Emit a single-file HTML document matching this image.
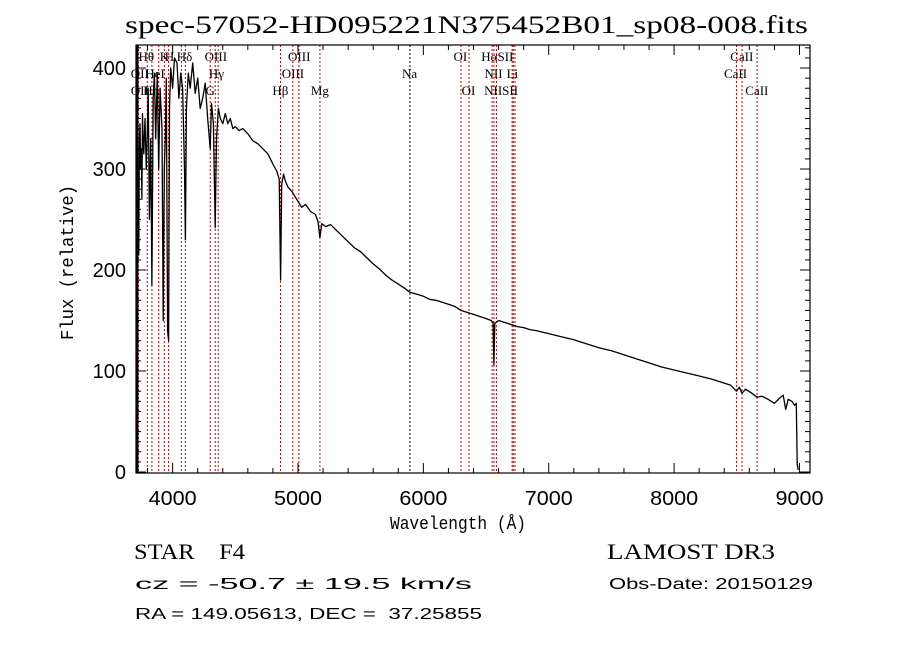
<!DOCTYPE html>
<html><head><meta charset="utf-8">
<style>
html,body{margin:0;padding:0;background:#fff;}
#wrap{position:relative;width:900px;height:649px;overflow:hidden;background:#fff;}
svg{position:absolute;left:0;top:0;}
.t{font-family:"Liberation Serif",serif;fill:#000;}
.s{font-family:"Liberation Sans",sans-serif;fill:#000;}
.m{font-family:"Liberation Mono",monospace;fill:#000;}
</style></head>
<body>
<div id="wrap">
<svg id="chart" width="900" height="649" viewBox="0 0 900 649">
<text class="t" x="125" y="33" font-size="25" textLength="683" lengthAdjust="spacingAndGlyphs">spec-57052-HD095221N375452B01_sp08-008.fits</text>
<text class="m" x="390" y="529" font-size="18" textLength="136" lengthAdjust="spacingAndGlyphs">Wavelength (Å)</text>
<text class="m" x="0" y="0" font-size="18" textLength="155" lengthAdjust="spacingAndGlyphs" transform="translate(73,340) rotate(-90)">Flux (relative)</text>
<text class="t" x="134" y="559" font-size="22" textLength="111" lengthAdjust="spacingAndGlyphs" xml:space="preserve">STAR    F4</text>
<text class="t" x="607" y="559" font-size="22" textLength="168" lengthAdjust="spacingAndGlyphs">LAMOST DR3</text>
<text class="s" x="135" y="589" font-size="16" textLength="337" lengthAdjust="spacingAndGlyphs">cz = -50.7 ± 19.5 km/s</text>
<text class="s" x="609" y="589" font-size="16" textLength="204" lengthAdjust="spacingAndGlyphs">Obs-Date: 20150129</text>
<text class="s" x="135" y="619" font-size="16" textLength="347" lengthAdjust="spacingAndGlyphs" xml:space="preserve">RA = 149.05613, DEC =  37.25855</text>
<g id="plot"></g>
</svg>
</div>
<script>
const wavelengths=[3712,3714,3716,3720,3725,3730,3735,3740,3745,3750,3755,3760,3765,3770,3780,3790,3798,3805,3815,3825,3835,3845,3855,3865,3878,3889,3900,3915,3925,3934,3942,3950,3960,3968,3975,3985,4000,4015,4035,4050,4065,4080,4095,4102,4110,4125,4140,4160,4180,4200,4220,4240,4260,4280,4300,4310,4325,4340,4350,4365,4380,4400,4420,4440,4460,4480,4500,4530,4560,4600,4640,4680,4720,4760,4800,4830,4850,4861,4870,4885,4900,4920,4950,4980,5000,5030,5060,5100,5140,5160,5175,5190,5220,5260,5300,5350,5400,5450,5500,5550,5600,5650,5700,5750,5800,5850,5893,5950,6000,6050,6100,6150,6200,6250,6300,6350,6400,6450,6500,6540,6556,6563,6570,6600,6650,6700,6750,6800,6850,6900,7000,7100,7200,7300,7400,7500,7600,7700,7800,7900,8000,8100,8200,8300,8400,8450,8498,8520,8542,8570,8620,8662,8700,8750,8800,8840,8870,8890,8910,8940,8960,8975,8982,8990];
const fluxes=[0,230,250,205,260,215,330,345,300,320,270,355,330,315,350,300,335,380,250,330,185,370,395,330,395,300,380,340,150,300,330,390,140,130,360,400,380,410,405,370,395,380,300,230,360,395,380,405,375,390,360,370,385,350,320,365,345,242,330,360,350,345,355,345,350,340,342,338,340,335,328,325,320,315,305,298,290,190,285,295,288,282,278,272,268,262,265,258,255,248,232,246,243,245,240,234,228,222,218,212,206,201,195,190,186,182,178,176,174,171,170,168,166,164,160,158,156,154,152,150,148,106,147,150,148,146,144,143,141,140,137,134,131,127,123,120,116,112,108,104,101,98,95,92,88,86,80,84,78,82,78,74,75,72,68,73,76,62,72,70,66,68,8,2];
const lineWl=[3727,3798,3835,3889,3934,3968,4070,4102,4300,4340,4363,4861,4959,5007,5175,5893,6300,6364,6548,6563,6583,6708,6717,6731,8498,8542,8662];
const labelText=["Hθ","K","H","Hδ","OIII","OIII","OI","HαSII","CaII","OII","HeI","Hγ","OIII","Na","NII","Li","CaII","OII","Hη","G","Hβ","Mg","OI","NIISII","CaII"];
const labelWl=[3790,3935,3975,4095,4345,5010,6295,6590,8540,3738,3860,4350,4960,5890,6560,6710,8490,3738,3830,4300,4860,5175,6360,6620,8660];
const labelRow=[0,0,0,0,0,0,0,0,0,1,1,1,1,1,1,1,1,2,2,2,2,2,2,2,2];
const xTicks=[4000,5000,6000,7000,8000,9000];
const yTicks=[0,100,200,300,400];

const L=136,R=810,T=45,B=473;
const xMin=3708,xMax=9084,yMin=-1,yMax=422.8;
const xs=w=>L+(w-xMin)/(xMax-xMin)*(R-L);
const ys=v=>B-(v-yMin)/(yMax-yMin)*(B-T);
const NS="http://www.w3.org/2000/svg";
const g=document.getElementById('plot');
function mk(tag,attrs){const e=document.createElementNS(NS,tag);for(const k in attrs)e.setAttribute(k,attrs[k]);g.appendChild(e);return e;}

lineWl.forEach(w=>{
  const x=xs(w);
  const ln=mk('line',{x1:x,x2:x,y1:T,y2:B,stroke:(w===5893?'#000':'#c00000'),'stroke-width':1,'stroke-dasharray':'2,2'});
  
  
});
const rowY=[61,78,95];
labelText.forEach((t,i)=>{
  const e=mk('text',{x:xs(labelWl[i]),y:rowY[labelRow[i]],'font-size':13,'text-anchor':'middle',class:'t'});
  e.textContent=t;
  
  
});
let d='';
wavelengths.forEach((w,i)=>{d+=(i?'L':'M')+xs(w).toFixed(1)+','+ys(fluxes[i]).toFixed(1);});
const p=mk('path',{d:d,fill:'none',stroke:'#000','stroke-width':1.3,'stroke-linejoin':'round'});


const fr=mk('rect',{x:L,y:T,width:R-L,height:B-T,fill:'none',stroke:'#000','stroke-width':1.2});


const lax=mk('line',{x1:L+1,x2:L+1,y1:T,y2:B,stroke:'#000','stroke-width':3});


for(let w=3800;w<=xMax;w+=200){
  const x=xs(w);const maj=(w%1000===0);const len=maj?10:5;
  const a=mk('line',{x1:x,x2:x,y1:B,y2:B-len,stroke:'#000','stroke-width':1});
  
  
  const b=mk('line',{x1:x,x2:x,y1:T,y2:T+len,stroke:'#000','stroke-width':1});
  
  
}
xTicks.forEach(w=>{
  const e=mk('text',{x:xs(w)-24,y:505,'font-size':20,textLength:48,lengthAdjust:'spacingAndGlyphs',class:'s'});
  e.textContent=w;
  
  
});
for(let v=0;v<=yMax;v+=10){
  const y=ys(v);const maj=(v%100===0);const len=maj?10:5;
  const a=mk('line',{x1:L,x2:L+len,y1:y,y2:y,stroke:'#000','stroke-width':1});
  
  
  const b=mk('line',{x1:R,x2:R-len,y1:y,y2:y,stroke:'#000','stroke-width':1});
  
  
}
yTicks.forEach(v=>{
  const e=mk('text',{x:126,y:ys(v)+7,'font-size':20,'text-anchor':'end',class:'s'});
  e.textContent=v;
  
  
});
</script>
</body></html>
